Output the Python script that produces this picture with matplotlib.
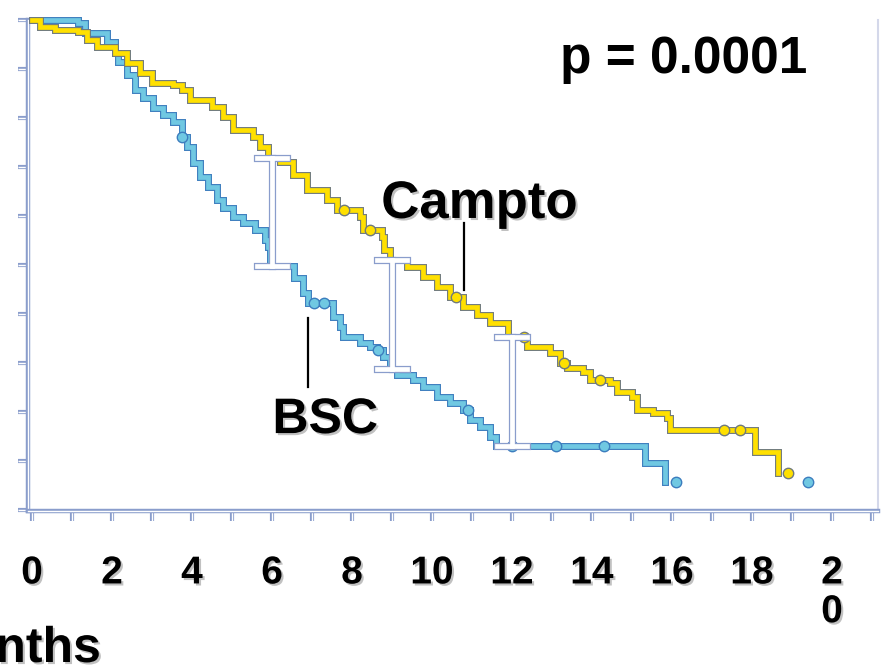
"""
Kaplan-Meier survival: Campto vs BSC
"""
import numpy as np
import matplotlib
matplotlib.use("Agg")
from matplotlib import pyplot as plt
from matplotlib import patheffects as pe

# survival steps (months, survival after the step)
campto_t = [0, 0.2, 0.58, 1.15, 1.38, 1.63, 2.08, 2.38, 2.7, 3.0, 3.53, 3.75, 3.95,
            4.5, 4.78, 5.03, 5.53, 5.7, 5.9, 6.2, 6.53, 6.88, 7.38, 7.63, 8.2, 8.28,
            8.75, 8.8, 8.95, 9.38, 9.78, 10.13, 10.45, 10.78, 11.13, 11.45, 11.9, 12.38,
            12.95, 13.2, 13.38, 13.78, 13.95, 14.45, 14.63, 15.0, 15.13, 15.53, 15.88,
            15.95, 18.08, 18.65]
campto_s = [1.0, 0.986, 0.980, 0.976, 0.959, 0.945, 0.933, 0.912, 0.892, 0.871, 0.867,
            0.857, 0.837, 0.822, 0.802, 0.776, 0.761, 0.741, 0.718, 0.710, 0.684, 0.653,
            0.633, 0.612, 0.598, 0.571, 0.557, 0.530, 0.510, 0.496, 0.476, 0.455, 0.435,
            0.414, 0.398, 0.382, 0.353, 0.333, 0.320, 0.300, 0.290, 0.282, 0.265, 0.259,
            0.241, 0.231, 0.204, 0.198, 0.188, 0.163, 0.118, 0.076]
bsc_t = [0, 1.15, 1.33, 1.88, 2.08, 2.15, 2.38, 2.58, 2.78, 3.03, 3.28, 3.53, 3.75,
         3.88, 4.03, 4.2, 4.4, 4.63, 4.78, 5.03, 5.28, 5.58, 5.83, 5.9, 5.95, 6.55,
         6.78, 6.9, 7.53, 7.7, 7.78, 8.2, 8.45, 8.63, 8.78, 8.95, 9.13, 9.53, 9.78,
         10.13, 10.45, 10.78, 10.95, 11.2, 11.45, 11.6, 15.33, 15.83]
bsc_s = [1.0, 0.994, 0.973, 0.955, 0.933, 0.914, 0.888, 0.857, 0.841, 0.820, 0.806,
         0.792, 0.761, 0.741, 0.708, 0.680, 0.659, 0.633, 0.616, 0.598, 0.586, 0.571,
         0.551, 0.537, 0.498, 0.473, 0.443, 0.422, 0.394, 0.373, 0.353, 0.341, 0.333,
         0.327, 0.312, 0.288, 0.276, 0.265, 0.251, 0.231, 0.218, 0.204, 0.184, 0.169,
         0.149, 0.131, 0.096, 0.057]

# censored patients (months)
campto_cens = [7.8, 8.45, 10.6, 12.3, 13.3, 14.2, 17.3, 17.7, 18.9]
bsc_cens = [3.75, 7.05, 7.3, 8.65, 10.9, 12.0, 13.1, 14.3, 16.1, 19.4]

# months where the gap between the curves is marked
gap_months = [6, 9, 12]

x_ticks = list(range(22))
x_labels = ["0", "", "2", "", "4", "", "6", "", "8", "", "10", "", "12", "", "14", "",
            "16", "", "18", "", "2\n0", ""]
y_ticks = [i / 10 for i in range(11)]

plt.rcParams['font.family'] = ['Liberation Sans', 'DejaVu Sans']

YELLOW = '#FFE000'
YELLOW_EDGE = '#707a7c'
BLUE = '#70C8E2'
BLUE_EDGE = '#3C7DBE'
FRAME = '#8a9dcc'


def s_at(times, surv, t):
    i = np.searchsorted(times, t, side='right') - 1
    return np.asarray(surv)[i]


shadow = [pe.SimplePatchShadow(offset=(1.5, -1.5), shadow_rgbFace='#777777', alpha=0.45),
          pe.Normal()]

fig = plt.figure(figsize=(8.83, 6.66), dpi=100)
ax = fig.add_axes([28 / 883, 1 - 511 / 666, 850 / 883, 491 / 666])
ax.set_xlim(-0.1, 21.15)
ax.set_ylim(-0.002, 1.0)

# curves
for t, s, col, edge in [(bsc_t, bsc_s, BLUE, BLUE_EDGE),
                        (campto_t, campto_s, YELLOW, YELLOW_EDGE)]:
    ln, = ax.step(t, s, where='post', color=col, linewidth=3.4, zorder=3,
                  clip_on=False, solid_joinstyle='miter')
    ln.set_path_effects([pe.Stroke(linewidth=5.0, foreground=edge), pe.Normal()])

ax.plot(bsc_cens, [s_at(bsc_t, bsc_s, c) for c in bsc_cens], 'o', ms=7.5,
        mfc=BLUE, mec=BLUE_EDGE, mew=1.0, zorder=4, clip_on=False)
ax.plot(campto_cens, [s_at(campto_t, campto_s, c) for c in campto_cens], 'o', ms=7.5,
        mfc=YELLOW, mec=YELLOW_EDGE, mew=1.0, zorder=4, clip_on=False)

# hollow I-beams between the curves
for m in gap_months:
    top = s_at(campto_t, campto_s, m)
    bot = s_at(bsc_t, bsc_s, m)
    segs = [([m - 0.38, m + 0.38], [top, top]),
            ([m - 0.38, m + 0.38], [bot, bot]),
            ([m, m], [top, bot])]
    for xs, ys in segs:
        ax.plot(xs, ys, color=FRAME, lw=5.2, solid_capstyle='projecting', zorder=5)
    for xs, ys in segs:
        ax.plot(xs, ys, color='white', lw=3.4, solid_capstyle='projecting', zorder=6)

# labels with pointer lines
ax.text(11.18, 0.596, "Campto", fontsize=38, fontweight='bold', ha='center',
        va='baseline', path_effects=shadow, zorder=7)
ax.plot([10.8, 10.8], [0.586, 0.449], color='black', lw=1.6, zorder=7)
ax.text(7.33, 0.157, "BSC", fontsize=36, fontweight='bold', ha='center',
        va='baseline', path_effects=shadow, zorder=7)
ax.plot([6.9, 6.9], [0.392, 0.251], color='black', lw=1.6, zorder=7)

fig.text(684 / 883, 1 - 73 / 666, "p = 0.0001", fontsize=37, fontweight='bold',
         ha='center', va='baseline')
# axis title runs off the left edge, as in the original slide
fig.text(101 / 883, 1 - 662 / 666, "Months", fontsize=36, fontweight='bold',
         ha='right', va='baseline', path_effects=shadow)

# axes frame
ax.spines['top'].set_visible(False)
ax.spines['right'].set_color('#d4d8ea')
ax.spines['right'].set_linewidth(1.5)
for side in ['left', 'bottom']:
    ax.spines[side].set_color('white')
    ax.spines[side].set_linewidth(1.0)
    ax.spines[side].set_path_effects([pe.Stroke(linewidth=3.2, foreground=FRAME), pe.Normal()])

ax.set_xticks(x_ticks)
ax.set_xticklabels(x_labels, fontsize=28, fontweight='bold', linespacing=1.1)
ax.set_yticks(y_ticks)
ax.set_yticklabels([])
ax.tick_params(axis='x', direction='out', length=7, width=1.0, color='white', pad=25)
ax.tick_params(axis='y', direction='out', length=7, width=1.0, color='white')
for tl in ax.xaxis.get_ticklines() + ax.yaxis.get_ticklines():
    tl.set_path_effects([pe.Stroke(linewidth=3.0, foreground=FRAME), pe.Normal()])
for lab in ax.get_xticklabels():
    lab.set_path_effects(shadow)

plt.savefig("out.png", dpi=100)
